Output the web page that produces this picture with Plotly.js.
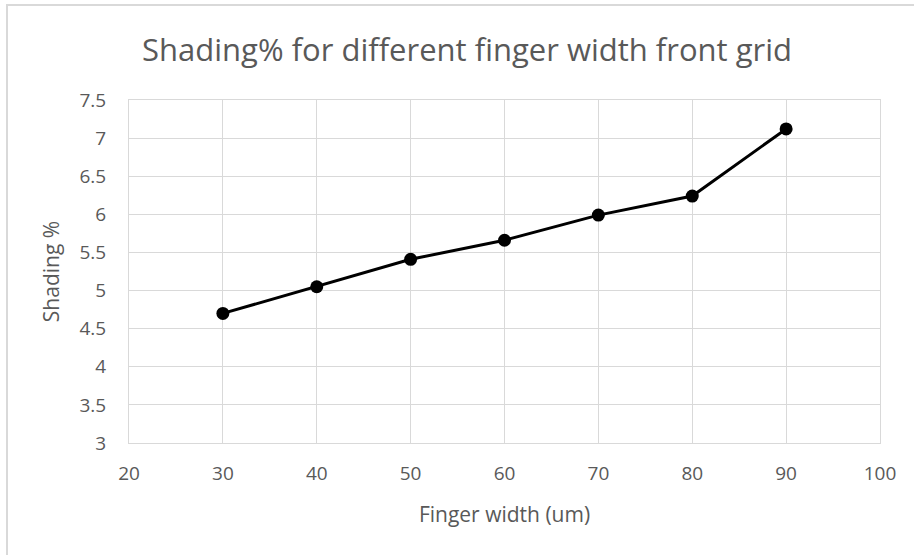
<!DOCTYPE html>
<html>
<head>
<meta charset="utf-8">
<script src="https://cdn.plot.ly/plotly-3.0.1.min.js"></script>
<style>
html,body{margin:0;padding:0;background:#fff;}
#wrap{position:relative;width:914px;height:555px;overflow:hidden;}
#chart{position:absolute;left:0;top:0;width:914px;height:555px;}
#bl{position:absolute;left:6px;top:4px;width:2px;height:551px;background:#d9d9d9;}
#bt{position:absolute;left:6px;top:4px;width:908px;height:2px;background:#d9d9d9;}
</style>
</head>
<body>
<div id="wrap">
<div id="chart"></div>
<div id="bl"></div>
<div id="bt"></div>
</div>
<script>
const fingerWidth = [30, 40, 50, 60, 70, 80, 90];
const shadingPct = [4.70, 5.05, 5.41, 5.66, 5.99, 6.24, 7.12];
const xTicks = [20, 30, 40, 50, 60, 70, 80, 90, 100];
const yTicks = [3, 3.5, 4, 4.5, 5, 5.5, 6, 6.5, 7, 7.5];
const yTickText = ['3', '3.5', '4', '4.5', '5', '5.5', '6', '6.5', '7', '7.5'];

const font = 'Open Sans, sans-serif';
const trace = {
  x: fingerWidth, y: shadingPct, type: 'scatter', mode: 'lines+markers',
  line: {color: '#000000', width: 3},
  marker: {color: '#000000', size: 13},
  hoverinfo: 'none'
};
const layout = {
  width: 914, height: 555,
  margin: {l: 129, r: 34, t: 100, b: 112, pad: 0},
  paper_bgcolor: '#ffffff', plot_bgcolor: '#ffffff',
  showlegend: false,
  title: {text: 'Shading% for different finger width front grid', x: 0.511, xanchor: 'center', y: 0.91, yanchor: 'middle',
          font: {family: font, size: 31, color: '#595959'}},
  xaxis: {range: [20, 100], tickvals: xTicks, ticktext: xTicks.map(String),
          showgrid: true, gridcolor: '#d9d9d9', gridwidth: 1,
          showline: true, linecolor: '#d9d9d9', linewidth: 1, mirror: true,
          zeroline: false, ticks: '', ticklen: 0, ticklabelstandoff: 13,
          tickfont: {family: font, size: 19, color: '#595959'},
          title: {text: 'Finger width (um)', font: {family: font, size: 21, color: '#595959'}, standoff: 22}},
  yaxis: {range: [3, 7.5], tickvals: yTicks, ticktext: yTickText,
          showgrid: true, gridcolor: '#d9d9d9', gridwidth: 1,
          showline: true, linecolor: '#d9d9d9', linewidth: 1, mirror: true,
          zeroline: false, ticks: '', ticklen: 0, ticklabelstandoff: 18,
          tickfont: {family: font, size: 19, color: '#595959'},
          title: {text: 'Shading %', font: {family: font, size: 21, color: '#595959'}, standoff: 14}}
};
Plotly.newPlot('chart', [trace], layout, {displayModeBar: false, staticPlot: true});
</script>
</body>
</html>
